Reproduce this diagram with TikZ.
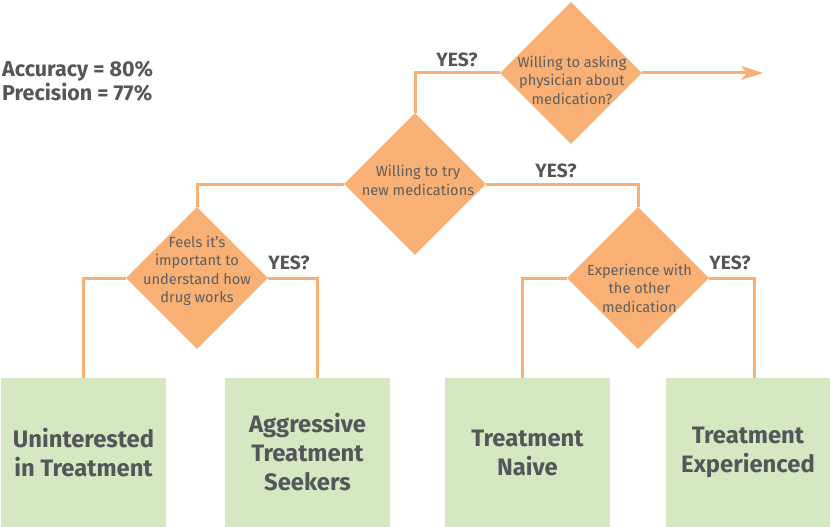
\documentclass[tikz,border=0pt]{standalone}
\usepackage{fontspec}
\setmainfont{Fira Sans}
\usetikzlibrary{shapes.geometric,arrows.meta}
\definecolor{orangeq}{HTML}{F8B074}
\definecolor{greenbox}{HTML}{D5E8C2}
\definecolor{inkdark}{HTML}{55565A}
\definecolor{inkq}{HTML}{5E5E60}
\tikzset{
  question/.style={shape=diamond, fill=orangeq, draw=none, inner sep=0pt,
    minimum width=142pt, minimum height=142pt},
  qtext/.style={text=inkq, align=center, inner sep=0pt,
    font=\fontsize{14.6pt}{18.5pt}\selectfont},
  outcome/.style={rectangle, fill=greenbox, draw=none, inner sep=0pt,
    minimum width=165pt, minimum height=149pt, text=inkdark, align=center,
    font=\bfseries\fontsize{23.8pt}{29pt}\selectfont},
  link/.style={draw=orangeq, line width=3pt},
  yeslabel/.style={text=inkdark, inner sep=0pt, font=\bfseries\fontsize{19.2pt}{22pt}\selectfont},
}
\begin{document}
\begin{tikzpicture}[x=1pt, y=-1pt]
\useasboundingbox (0,0) rectangle (830,527);

% metrics
\node[text=inkdark, anchor=west, align=left, inner sep=0pt,
      font=\bfseries\fontsize{21.5pt}{24pt}\selectfont] (metrics) at (2,81)
      {Accuracy = 80\%\\Precision = 77\%};

% decision diamonds
\node[question] (qask)  at (571,73)  {};
\node[question] (qtry)  at (415,184) {};
\node[question] (qfeel) at (197,278) {};
\node[question] (qexp)  at (638,278) {};

% outcome boxes
\node[outcome] (bunint) at (83.5,452.5) {Uninterested\\in Treatment};
\node[outcome] (baggr)  at (307.5,452.5) {Aggressive\\Treatment\\Seekers};
\node[outcome] (bnaive) at (527.5,452.5) {Treatment\\Naive};
\node[outcome] (bexp)   at (748,452.5) {Treatment\\Experienced};

% connectors
\coordinate (askend) at (763,73);
\draw[link] (qask.west) -| (qtry.north);
\draw[link, -{Stealth[length=22pt, width=14pt, inset=6pt]}] (qask.east) -- (askend);
\draw[link] (qtry.west) -| (qfeel.north);
\draw[link] (qtry.east) -| (qexp.north);
\draw[link] (qfeel.west) -| ([xshift=-0.5pt]bunint.north);
\draw[link] (qfeel.east) -| ([xshift=9.5pt]baggr.north);
\draw[link] (qexp.west) -| ([xshift=-5.5pt]bnaive.north);
\draw[link] (qexp.east) -| ([xshift=6pt]bexp.north);

% question texts
\node[qtext] (task)  at (572,80)  {Willing to asking\\physician about\\medication?};
\node[qtext] (ttry)  at (418,180.5) {Willing to try\\new medications};
\node[qtext] (tfeel) at (197,271) {Feels it’s\\important to\\understand how\\drug works};
\node[qtext] (texp)  at (639.5,288) {Experience with\\the other\\medication};

% yes labels
\node[yeslabel] (yask)  at (457,60)  {YES?};
\node[yeslabel] (ytry)  at (556,171) {YES?};
\node[yeslabel] (yfeel) at (289,263) {YES?};
\node[yeslabel] (yexp)  at (730,263) {YES?};
\end{tikzpicture}
\end{document}
